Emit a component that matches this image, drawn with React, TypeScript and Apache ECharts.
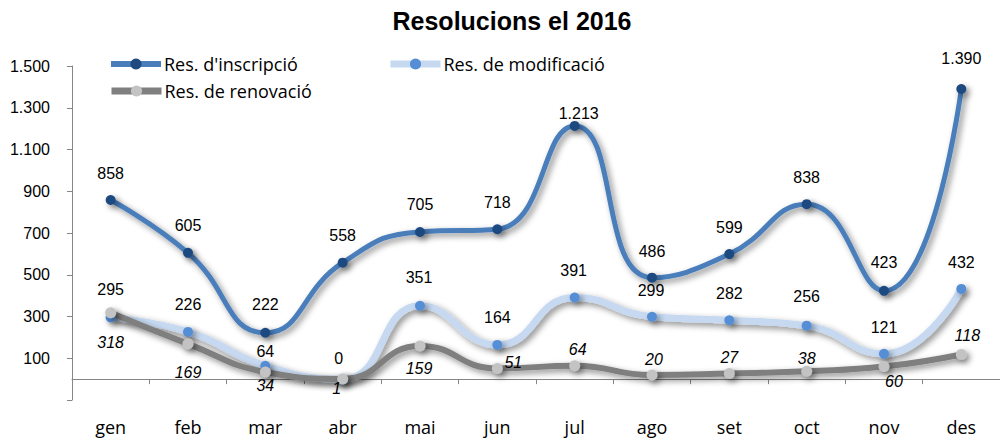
import React, { useEffect, useRef } from "react";
import * as echarts from "echarts";

const months = ["gen", "feb", "mar", "abr", "mai", "jun", "jul", "ago", "set", "oct", "nov", "des"];
const seriesNames = ["Res. d'inscripció", "Res. de modificació", "Res. de renovació"];
const inscripcio = [858, 605, 222, 558, 705, 718, 1213, 486, 599, 838, 423, 1390];
const modificacio = [295, 226, 64, 0, 351, 164, 391, 299, 282, 256, 121, 432];
const renovacio = [318, 169, 34, 1, 159, 51, 64, 20, 27, 38, 60, 118];

// label offsets (styling only)
const inscOff = [[0, -27], [0, -27], [0, -28], [0, -27], [0, -27], [0, -27], [4, -12], [0, -26], [0, -27], [0, -27], [0, -28], [0, -30]];
const modOff = [[0, -28], [0, -27], [0, -14], [-4, -21], [-1, -28], [0, -27], [-1, -27], [-1, -26], [0, -27], [0, -29], [0, -26], [0, -26]];
const renOff = [[0, 30], [0, 29], [0, 13], [-6, 10], [-1, 23], [16, -6], [3, -16], [2, -15], [0, -16], [0, -13], [10, 15], [6, -19]];

const fmt = (v: number) => String(v).replace(/\B(?=(\d{3})+(?!\d))/g, ".");

export default function App() {
  const ref = useRef<HTMLDivElement>(null);
  useEffect(() => {
    if (!ref.current) return;
    const chart = echarts.init(ref.current, null, { renderer: "svg" });
    const shadow = { shadowColor: "rgba(0,0,0,0.45)", shadowBlur: 6, shadowOffsetX: 3, shadowOffsetY: 3 };
    const mk = (
      name: string,
      vals: number[],
      off: number[][],
      lineColor: string,
      lineWidth: number,
      markColor: string,
      size: number,
      italic: boolean
    ) => ({
      name,
      type: "line",
      smooth: 0.5,
      symbol: "circle",
      symbolSize: size,
      lineStyle: { color: lineColor, width: lineWidth, ...shadow },
      itemStyle: { color: markColor, ...shadow },
      label: {
        show: true,
        position: "inside",
        formatter: (p: any) => fmt(p.value),
        fontFamily: "Liberation Sans, Arial, sans-serif",
        fontSize: 16,
        fontStyle: italic ? "italic" : "normal",
        color: "#000",
      },
      data: vals.map((v, i) => ({ value: v, label: { offset: off[i] } })),
    });
    const legendBase = {
      itemWidth: 50,
      itemHeight: 14,
      itemGap: 4,
      padding: 0,
      textStyle: { fontFamily: "Open Sans", fontSize: 18, color: "#000", padding: [0, 0, 0, -2] },
    };
    chart.setOption({
      animation: false,
      title: {
        text: "Resolucions el 2016",
        left: 512,
        textAlign: "center",
        top: 8,
        padding: 0,
        textStyle: { fontFamily: "Liberation Sans, Arial", fontWeight: "bold", fontSize: 25, color: "#000" },
      },
      legend: [
        { ...legendBase, data: [seriesNames[0]], left: 108, top: 55, lineStyle: { width: 6 } },
        { ...legendBase, data: [seriesNames[1]], left: 387, top: 55, lineStyle: { width: 7 } },
        { ...legendBase, data: [seriesNames[2]], left: 108, top: 82, lineStyle: { width: 7 } },
      ],
      grid: { left: 72, right: 0, top: 66, bottom: 38, containLabel: false, outerBoundsMode: "none" },
      xAxis: {
        type: "category",
        data: months,
        boundaryGap: true,
        axisLine: { onZero: true, lineStyle: { color: "#868686", width: 1 } },
        axisTick: { show: true, length: 5, lineStyle: { color: "#868686" } },
        axisLabel: { margin: 17, fontFamily: "Open Sans", fontSize: 18, color: "#000", lineHeight: 20 },
      },
      yAxis: {
        type: "value",
        min: -100,
        max: 1500,
        interval: 200,
        splitLine: { show: false },
        axisLine: { show: true, lineStyle: { color: "#868686", width: 1 } },
        axisTick: { show: true, length: 5, lineStyle: { color: "#868686" } },
        axisLabel: {
          margin: 22,
          fontFamily: "Liberation Sans, Arial",
          fontSize: 16,
          color: "#000",
          formatter: (v: number) => (v < 0 ? "" : fmt(v)),
        },
      },
      series: [
        mk(seriesNames[0], inscripcio, inscOff, "#4a7ebb", 5, "#1f4a80", 10, false),
        mk(seriesNames[1], modificacio, modOff, "#c6d9f1", 7, "#558ed5", 10, false),
        mk(seriesNames[2], renovacio, renOff, "#7f7f7f", 6, "#c3c3c3", 11, true),
      ],
    });
    return () => chart.dispose();
  }, []);
  return <div ref={ref} style={{ position: "absolute", left: 0, top: 0, width: 1000, height: 438 }} />;
}
